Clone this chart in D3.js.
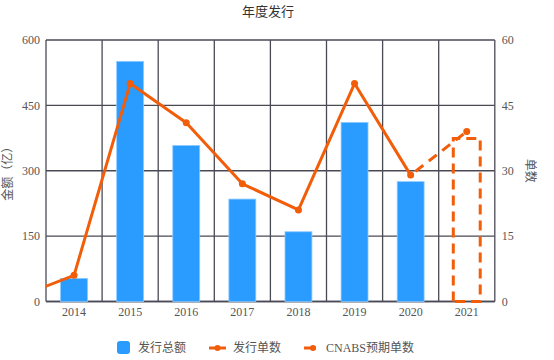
<!DOCTYPE html>
<html><head><meta charset="utf-8">
<script src="https://cdn.jsdelivr.net/npm/d3@7"></script>
<style>body{margin:0;background:#fff;} text{font-family:"Liberation Serif","DejaVu Serif","Noto Sans CJK SC",serif;}</style>
</head><body><svg id="c" width="554" height="360"></svg>
<script>
const categories = ["2014","2015","2016","2017","2018","2019","2020","2021"];
const amounts = [53, 551, 358, 235, 160, 411, 275, null];
const counts = [6, 50, 41, 27, 21, 50, 29, null];
const countLeadIn = 1; // value from the previous year entering the chart at the left edge
const forecastCount = 39;
const forecastAmount = 374;
const leftTicks = [0, 150, 300, 450, 600];
const rightTicks = [0, 15, 30, 45, 60];
const title = "年度发行";
const leftLabel = "金额（亿）";
const rightLabel = "单数";
const legendLabels = ["发行总额", "发行单数", "CNABS预期单数"];

const blue = "#2a9bff", orange = "#f25d0a", grid = "#4a4a55", txt = "#555";
const svg = d3.select("#c");
const m = {l:46, r:494.8, t:40, b:301.5};
const x = d3.scaleBand().domain(categories).range([m.l, m.r]).paddingInner(0).paddingOuter(0);
const yL = d3.scaleLinear().domain([0,600]).range([m.b, m.t]);
const yR = d3.scaleLinear().domain([0,60]).range([m.b, m.t]);
const bw = x.bandwidth()*0.48;
const cx = c => x(c) + x.bandwidth()/2;

// title
svg.append("text").attr("x",268).attr("y",16).attr("text-anchor","middle").attr("font-size",13).attr("fill","#333").text(title);

// grid
svg.append("g").selectAll("line").data(leftTicks).join("line")
  .attr("x1",m.l).attr("x2",m.r).attr("y1",d=>yL(d)).attr("y2",d=>yL(d))
  .attr("stroke",grid).attr("stroke-width",1.3);
svg.append("g").selectAll("line").data(d3.range(categories.length+1)).join("line")
  .attr("x1",i=>m.l+i*x.step()).attr("x2",i=>m.l+i*x.step()).attr("y1",m.t).attr("y2",m.b)
  .attr("stroke",grid).attr("stroke-width",1.3);

// axes labels
const axL = svg.append("g").attr("transform",`translate(${m.l},0)`).call(d3.axisLeft(yL).tickValues(leftTicks).tickSize(0).tickPadding(6));
const axR = svg.append("g").attr("transform",`translate(${m.r},0)`).call(d3.axisRight(yR).tickValues(rightTicks).tickSize(0).tickPadding(7));
const axB = svg.append("g").attr("transform",`translate(0,${m.b})`).call(d3.axisBottom(x).tickSize(0).tickPadding(6));
[axL,axR,axB].forEach(a=>{a.select(".domain").remove(); a.selectAll("text").attr("font-size",12).attr("fill",txt).attr("font-family","Liberation Serif, serif");});
svg.append("line").attr("x1",m.l).attr("x2",m.r).attr("y1",m.b).attr("y2",m.b).attr("stroke",grid).attr("stroke-width",1.5);

svg.append("text").attr("transform",`translate(8,${(m.t+m.b)/2}) rotate(-90)`).attr("text-anchor","middle").attr("dominant-baseline","central").attr("font-size",12).attr("fill",txt).text(leftLabel);
svg.append("text").attr("transform",`translate(530,${(m.t+m.b)/2}) rotate(90)`).attr("text-anchor","middle").attr("dominant-baseline","central").attr("font-size",12).attr("fill",txt).text(rightLabel);

// bars
svg.append("g").selectAll("rect").data(categories.map((c,i)=>({c,v:amounts[i]})).filter(d=>d.v!=null)).join("rect")
  .attr("x",d=>cx(d.c)-bw/2).attr("width",bw).attr("y",d=>yL(d.v)).attr("height",d=>yL(0)-yL(d.v))
  .attr("fill",blue).attr("stroke","#8ccaff").attr("stroke-width",0.8);

// forecast dashed bar
const fc = categories[categories.length-1];
svg.append("path")
  .attr("d",`M${cx(fc)-bw/2},${yL(0)} V${yL(forecastAmount)} H${cx(fc)+bw/2} V${yL(0)} Z`)
  .attr("fill","none").attr("stroke",orange).attr("stroke-width",3).attr("stroke-dasharray","10,6");

// count line
svg.append("clipPath").attr("id","pc").append("rect").attr("x",m.l).attr("y",m.t-10).attr("width",m.r-m.l).attr("height",m.b-m.t+20);
const pts = categories.map((c,i)=>({x:cx(c), v:counts[i]})).filter(d=>d.v!=null);
const lead = {x: pts[0].x - x.step(), v: countLeadIn};
const line = d3.line().x(d=>d.x).y(d=>yR(d.v));
svg.append("path").attr("clip-path","url(#pc)").attr("d",line([lead,...pts])).attr("fill","none").attr("stroke",orange).attr("stroke-width",3).attr("stroke-linejoin","round");
svg.append("g").selectAll("circle").data(pts).join("circle").attr("cx",d=>d.x).attr("cy",d=>yR(d.v)).attr("r",3.5).attr("fill",orange);

// forecast line
const last = pts[pts.length-1];
const fp = {x: cx(fc), v: forecastCount};
svg.append("path").attr("d",line([last,fp])).attr("fill","none").attr("stroke",orange).attr("stroke-width",3).attr("stroke-dasharray","10,7").attr("stroke-dashoffset",-6);
svg.append("circle").attr("cx",fp.x).attr("cy",yR(fp.v)).attr("r",3.5).attr("fill",orange);

// legend
const lg = svg.append("g").attr("font-size",12);
lg.append("rect").attr("x",117).attr("y",341).attr("width",13).attr("height",13).attr("rx",3).attr("fill",blue);
lg.append("text").attr("x",138).attr("y",352).attr("fill",txt).text(legendLabels[0]);
lg.append("line").attr("x1",209).attr("x2",226).attr("y1",348).attr("y2",348).attr("stroke",orange).attr("stroke-width",3);
lg.append("circle").attr("cx",217.5).attr("cy",348).attr("r",3).attr("fill",orange);
lg.append("text").attr("x",233).attr("y",352).attr("fill",txt).text(legendLabels[1]);
lg.append("line").attr("x1",304).attr("x2",316).attr("y1",348).attr("y2",348).attr("stroke",orange).attr("stroke-width",3);
lg.append("circle").attr("cx",313).attr("cy",348).attr("r",3).attr("fill",orange);
lg.append("text").attr("x",326).attr("y",352).attr("fill",txt).text(legendLabels[2]);
</script></body></html>
